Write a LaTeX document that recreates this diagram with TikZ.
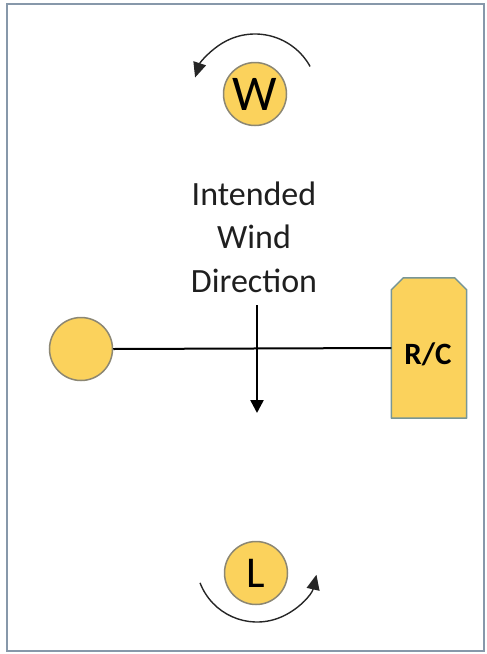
\documentclass[tikz,border=0pt]{standalone}
\usepackage{fontspec}
\setmainfont{Carlito}
\usetikzlibrary{arrows.meta,calc}
\definecolor{fillY}{RGB}{251,210,92}
\definecolor{circEdge}{RGB}{140,135,115}
\definecolor{boxEdge}{RGB}{120,150,150}
\definecolor{frameC}{RGB}{135,152,170}
\tikzset{
  disc/.style={circle,fill=fillY,draw=circEdge,line width=1.5pt,minimum size=63pt,inner sep=0pt},
  rotarrow/.style={draw=black!85,line width=1.4pt,-{Triangle[length=15pt,width=13pt]}},
  windarrow/.style={draw=black,line width=2.5pt,-{Triangle[length=13pt,width=13pt]}},
}
\begin{document}
\begin{tikzpicture}[x=1pt,y=-1pt]
\useasboundingbox (0,0) rectangle (487,654);
\draw[frameC,line width=2pt] (7,4) rectangle (484,651);
% W
\node[disc,font=\fontsize{50}{50}\selectfont] (W) at (255,94) {\raisebox{-1pt}{W}};
\draw[rotarrow] (255,97) ++(-29:63) arc[start angle=-29,end angle=-162,radius=63];
% L
\node[disc,font=\fontsize{44}{44}\selectfont] (L) at (256,573) {\raisebox{-1pt}{L}};
\draw[rotarrow] (257,561) ++(159:61) arc[start angle=159,end angle=13,radius=61];
% text
\node[align=center,font=\fontsize{34}{43.5}\selectfont,text=black!88] (T) at (254,237) {Intended\\Wind\\Direction};
% left circle
\node[disc] (LC) at (81,349) {};
% R/C box
\node[minimum width=75pt,minimum height=140pt,inner sep=0pt] (RC) at (429,348) {};
\filldraw[fill=fillY,draw=boxEdge,line width=1.5pt,line join=round]
  (RC.south west) -- ($(RC.north west)+(0,12)$) -- ($(RC.north west)+(12,0)$)
  -- ($(RC.north east)+(-12,0)$) -- ($(RC.north east)+(0,12)$) -- (RC.south east) -- cycle;
\node[font=\fontsize{31}{31}\selectfont\bfseries] (RCt) at (428,354) {R/C};
% connector
\draw[line width=2pt] (LC.east) -- (RC.west);
% wind arrow
\coordinate (a1) at (257,305);
\coordinate (a2) at (257,413);
\draw[windarrow] (a1) -- (a2);
\end{tikzpicture}
\end{document}
